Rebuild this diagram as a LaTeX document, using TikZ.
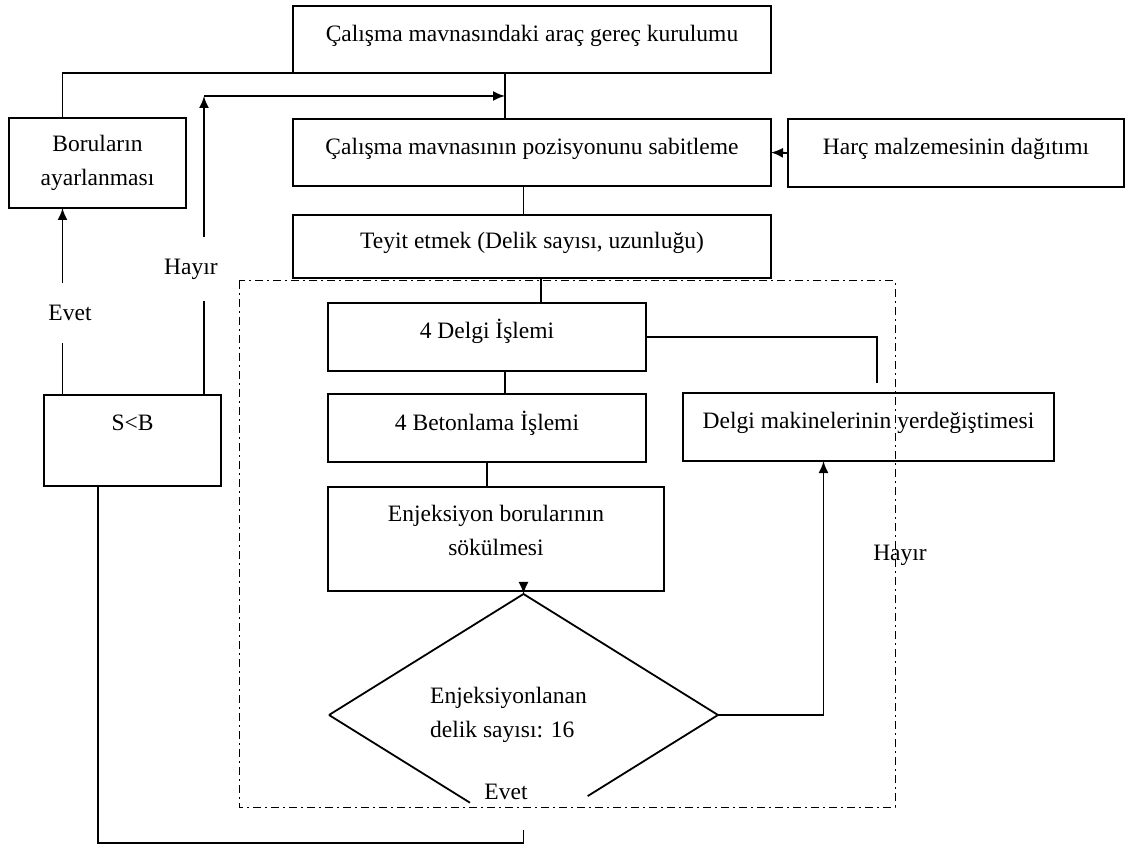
\documentclass[tikz,border=0pt]{standalone}
\usepackage{fontspec}
\setmainfont{Liberation Serif}
\usetikzlibrary{arrows.meta,calc,shapes.geometric}
\begin{document}
\begin{tikzpicture}[x=0.5pt,y=-0.5pt,
  line width=0.9pt,
  txtfont/.style={font=\fontsize{11.75}{17}\selectfont},
  box/.style={draw, rectangle, inner sep=0pt, outer sep=0pt, align=center, txtfont},
  onel/.style={box, text height=8pt, text depth=6pt},
  arr/.style={-{Latex[length=6pt,width=5pt]}},
  lbl/.style={txtfont, inner sep=1pt},
  dashdotbox/.style={line width=0.5pt, dash pattern=on 4pt off 2pt on 1pt off 2pt}]
\useasboundingbox (0,0) rectangle (1125,845);

% dash-dot frame
\draw[dashdotbox] (239,281) rectangle (895,807);

% boxes
\node[onel, minimum width=239pt, minimum height=33.5pt] (top) at (532,39.5) {Çalışma mavnasındaki araç gereç kurulumu};
\node[box, minimum width=88.5pt, minimum height=45pt] (bor) at (97.5,163) {Boruların\\ayarlanması};
\node[onel, minimum width=239pt, minimum height=33.5pt] (poz) at (532,152.5) {Çalışma mavnasının pozisyonunu sabitleme};
\node[onel, minimum width=168pt, minimum height=34pt] (harc) at (956,153) {Harç malzemesinin dağıtımı};
\node[onel, minimum width=239pt, minimum height=31.5pt] (tey) at (532,246.5) {Teyit etmek (Delik sayısı, uzunluğu)};
\node[onel, minimum width=159pt, minimum height=34pt] (delgi) at (487,337) {4 Delgi İşlemi};
\node[onel, minimum width=159pt, minimum height=34pt] (beton) at (487,428) {4 Betonlama İşlemi};
\node[onel, minimum width=185.5pt, minimum height=34pt] (dm) at (868.5,427) {Delgi makinelerinin yerdeğiştimesi};
\node[box, minimum width=168pt, minimum height=52pt,
      label={[lbl, align=center, yshift=4.5pt]center:{Enjeksiyon borularının\\sökülmesi}}] (enj) at (496,539) {};
\node[box, minimum width=88.5pt, minimum height=45.5pt,
      label={[lbl, yshift=8.75pt]center:S<B}] (sb) at (132.5,440.5) {};
\node[diamond, draw=none, minimum width=194.5pt, minimum height=103pt, inner sep=0pt, outer sep=0pt,
      align=left, txtfont] (dec) at (523.5,715) {Enjeksiyonlanan\hspace*{15pt}\\delik sayısı: 16};

% diamond outline (bottom hidden behind the label)
\draw (dec.west) -- (dec.north) -- (dec.east);
\draw (dec.west) -- ($(dec.west)!0.725!(dec.south)$);
\draw (dec.east) -- ($(dec.east)!0.67!(dec.south)$);
\node[lbl] (evb) at (506,792) {Evet};

% helper coordinates
\coordinate (cE) at (62.5,0);
\coordinate (cH) at (204,96);
\coordinate (jA) at (505,96);
\coordinate (cT) at (541,0);
\coordinate (cD) at (877,383);
\coordinate (cR) at (823.5,712);
\coordinate (cS) at (98,843);
\coordinate (cB) at (523.5,843);
\coordinate (cBt) at (523.5,830);
\coordinate (cA) at (523.5,584);

% connectors
\draw (bor.north -| cE) |- (top.south -| jA);
\draw (top.south -| jA) -- (poz.north -| jA);
\draw[arr] (sb.north -| cE) -- (bor.south -| cE);
\node[lbl, fill=white, inner ysep=11pt] (evl) at (70,313) {Evet};
\draw[arr] (sb.north -| cH) -- (cH);
\draw[arr] (cH) -- (jA);
\node[lbl, fill=white, inner ysep=11pt] (hyl) at (191,269) {Hayır};
\draw (poz.south -| dec.north) -- (tey.north -| dec.north);
\draw[arr] (harc.west) -- (poz.east);
\draw (tey.south -| cT) -- (delgi.north -| cT);
\draw (delgi.south -| jA) -- (beton.north -| jA);
\draw (beton.south) -- (beton.south |- enj.north);
\draw[arr] (cA) -- (dec.north);
\draw (delgi.east) -| (cD);
\draw[arr] (dec.east -| cR) -- (dm.south -| cR);
\draw (dec.east) -- (dec.east -| cR);
\node[lbl] (hyr) at (900,555) {Hayır};
\draw (sb.south -| cS) |- (cB) -- (cBt);
\end{tikzpicture}
\end{document}
